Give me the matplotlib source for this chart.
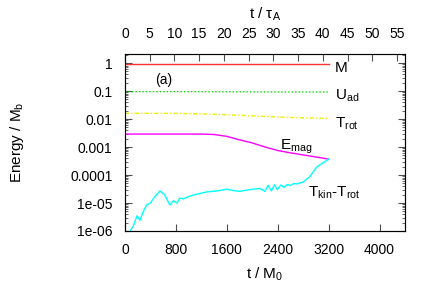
import numpy as np
import matplotlib
matplotlib.use('Agg')
import matplotlib.pyplot as plt

plt.rcParams['font.family'] = ['Liberation Sans', 'DejaVu Sans']
plt.rcParams['mathtext.default'] = 'regular'

# data (t in units of M0)
t_flat = [0, 800, 1600, 2400, 3200]
M = [0.93, 0.93, 0.93, 0.93, 0.93]
U_ad = [0.095, 0.095, 0.094, 0.093, 0.092]

t_rot = [0, 400, 800, 1200, 1600, 2000, 2400, 2800, 3200]
T_rot = [0.016, 0.016, 0.0158, 0.0152, 0.0142, 0.013, 0.0118, 0.011, 0.0105]

t_mag = [0, 400, 800, 1200, 1400, 1600, 1800, 2000, 2200, 2400, 2600, 2800, 3000, 3200]
E_mag = [0.0029, 0.0029, 0.0029, 0.0029, 0.0028, 0.0024, 0.0018, 0.0014,
         0.0010, 0.00075, 0.00062, 0.00052, 0.00044, 0.00037]

t_kin = [80, 130, 190, 235, 280, 340, 400, 460, 550, 620, 705, 760, 820, 860,
         920, 970, 1100, 1290, 1450, 1600, 1700, 1800, 1950, 2120, 2200, 2250,
         2300, 2350, 2390, 2450, 2500, 2550, 2600, 2650, 2700, 2800, 2900,
         3010, 3100, 3200]
T_kin = [1.0e-6, 1.5e-6, 3.5e-6, 2.4e-6, 4.5e-6, 8.5e-6, 1.0e-5, 1.6e-5,
         2.7e-5, 2.0e-5, 8.5e-6, 1.2e-5, 1.0e-5, 1.5e-5, 1.4e-5, 1.6e-5,
         2.0e-5, 2.5e-5, 2.7e-5, 3.1e-5, 2.8e-5, 2.6e-5, 3.0e-5, 3.3e-5,
         2.6e-5, 4.3e-5, 2.7e-5, 4.5e-5, 3.0e-5, 4.4e-5, 3.6e-5, 4.6e-5,
         4.2e-5, 5.0e-5, 4.8e-5, 5.6e-5, 8.5e-5, 1.9e-4, 2.6e-4, 3.7e-4]

xticks = [0, 800, 1600, 2400, 3200, 4000]
tau_ticks = [0, 5, 10, 15, 20, 25, 30, 35, 40, 45, 50, 55]
yticks = [1e-6, 1e-5, 1e-4, 1e-3, 1e-2, 1e-1, 1]
ylabels = ['1e-06', '1e-05', '0.0001', '0.001', '0.01', '0.1', '1']
tau_per_M0 = 77.7

fig = plt.figure(figsize=(4.36, 3.05), dpi=100)
ax = fig.add_axes([125/436, 1 - 231/305, 280/436, 177/305])

ax.plot(t_flat, M, color='#ff3030', lw=1.0)
ax.plot(t_flat, U_ad, color='#00dd00', lw=1.0, ls=(0, (1, 1.5)))
ax.plot(t_rot, T_rot, color='#eeee00', lw=1.0, ls=(0, (3, 1.5, 1, 1.5)))
ax.plot(t_mag, E_mag, color='#ff00ff', lw=1.0)
ax.plot(t_kin, T_kin, color='#00ffff', lw=1.0)

ax.set_yscale('log')
ax.set_xlim(0, 4400)
ax.set_ylim(1e-6, 2.1)
ax.set_xticks(xticks)
ax.set_yticks(yticks)
ax.set_yticklabels(ylabels)
ax.tick_params(which='both', direction='in', right=True, labelsize=10,
               color='0.3', pad=9)
ax.tick_params(which='major', length=5)
ax.tick_params(which='minor', length=2.5)
for s in ax.spines.values():
    s.set_color('0.4')

ax2 = ax.twiny()
ax2.set_xlim(0, 4400 / tau_per_M0)
ax2.set_xticks(tau_ticks)
ax2.tick_params(direction='in', length=5, labelsize=10, color='0.3', pad=9)

fig.text(265/436, 1 - 274/305, 't / M$_0$', fontsize=11, ha='center', va='center')
fig.text(265/436, 1 - 14/305, 't / τ$_A$', fontsize=11, ha='center', va='center')
fig.text(17/436, 1 - 142/305, 'Energy / M$_b$', fontsize=11, ha='center',
         va='center', rotation=90)

ax.text(0.107, 0.853, '(a)', transform=ax.transAxes, fontsize=10, va='center')
ax.text(3300, 0.68, 'M', fontsize=11, va='center')
ax.text(3300, 0.065, 'U$_{ad}$', fontsize=11, va='center')
ax.text(3300, 0.0068, 'T$_{rot}$', fontsize=11, va='center')
ax.text(2430, 0.0010, 'E$_{mag}$', fontsize=11, va='center')
ax.text(2870, 2.4e-5, 'T$_{kin}$-T$_{rot}$', fontsize=11, va='center')

fig.savefig('out.png', dpi=100)
